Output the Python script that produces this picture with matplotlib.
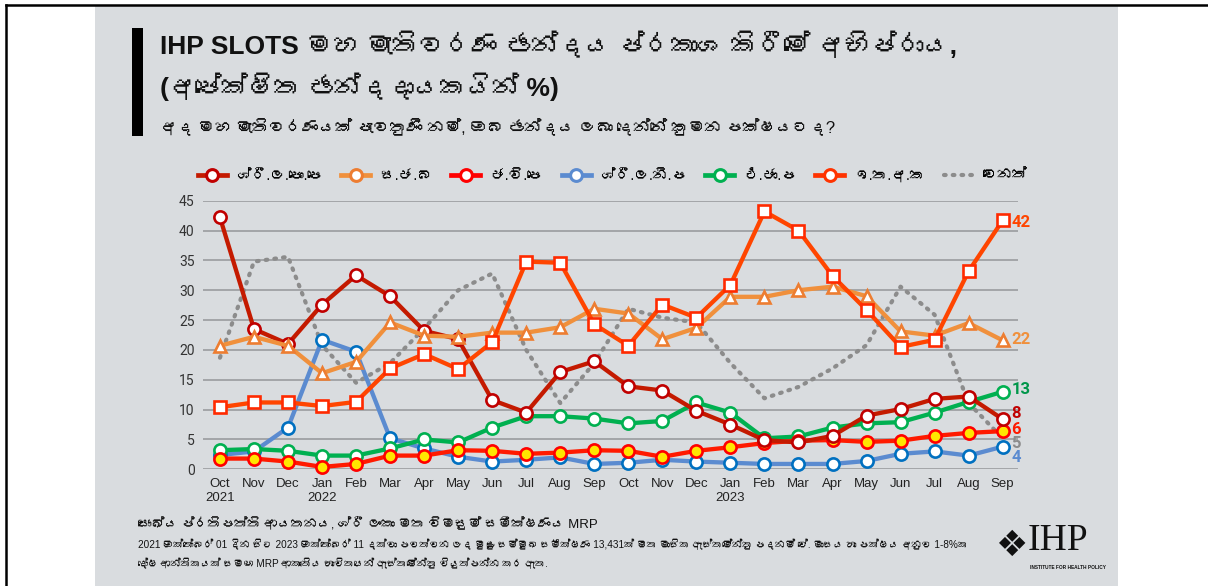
import matplotlib

matplotlib.use("Agg")
import matplotlib.pyplot as plt
from matplotlib import font_manager
from matplotlib.ft2font import FT2Font
from matplotlib.lines import Line2D
from matplotlib.patches import Rectangle

# Months on the x axis
months = ["Oct", "Nov", "Dec", "Jan", "Feb", "Mar", "Apr", "May", "Jun", "Jul", "Aug", "Sep",
          "Oct", "Nov", "Dec", "Jan", "Feb", "Mar", "Apr", "May", "Jun", "Jul", "Aug", "Sep"]
years = {0: "2021", 3: "2022", 15: "2023"}

# Series values (% of likely voters)
slpp = [42.2, 23.5, 21.0, 27.6, 32.5, 29.0, 23.2, 21.8, 11.6, 9.5, 16.3, 18.1,
        13.9, 13.2, 9.8, 7.5, 4.9, 4.5, 5.6, 9.0, 10.1, 11.8, 12.2, 8.4]
sjb = [20.7, 22.2, 20.7, 16.1, 18.0, 24.6, 22.4, 22.2, 22.9, 22.9, 23.8, 26.9,
       26.1, 21.8, 23.7, 28.9, 28.9, 30.0, 30.6, 29.0, 23.1, 22.4, 24.5, 21.6]
jvp = [1.8, 1.8, 1.3, 0.4, 0.9, 2.3, 2.3, 3.2, 3.1, 2.6, 2.8, 3.2,
       3.1, 2.1, 3.1, 3.7, 4.4, 4.8, 4.9, 4.6, 4.8, 5.6, 6.1, 6.4]
slfp = [2.4, 3.0, 7.0, 21.7, 19.7, 5.2, 3.5, 2.1, 1.3, 1.6, 2.0, 0.9,
        1.1, 1.6, 1.3, 1.1, 0.9, 0.9, 0.9, 1.4, 2.6, 3.0, 2.3, 3.8]
unp = [3.2, 3.4, 3.1, 2.3, 2.3, 3.5, 5.0, 4.5, 7.0, 8.9, 8.9, 8.5,
       7.7, 8.1, 11.2, 9.5, 5.2, 5.5, 7.0, 7.7, 7.9, 9.5, 11.3, 13.0]
itak = [10.4, 11.2, 11.2, 10.6, 11.3, 16.9, 19.3, 16.8, 21.3, 34.8, 34.6, 24.3,
        20.7, 27.6, 25.4, 30.9, 43.2, 40.0, 32.4, 26.7, 20.5, 21.7, 33.2, 41.7]
other = [18.7, 34.8, 35.6, 20.8, 14.5, 17.8, 23.6, 30.0, 32.8, 20.0, 11.1, 17.8,
         26.9, 25.4, 24.6, 17.8, 11.9, 13.8, 16.9, 20.8, 30.6, 25.9, 11.1, 5.2]

labels = ["ශ්‍රී.ල.පො.පෙ", "ස.ජ.බ", "ජ.වි.පෙ", "ශ්‍රී.ල.නි.ප", "එ.ජා.ප", "ඉ.ත.අ.ක", "වෙනත්"]


def find_fonts(codepoint):
    # installed fonts that have the given character, proportional ones first
    found = []
    for f in font_manager.fontManager.ttflist:
        try:
            if codepoint in FT2Font(f.fname).get_charmap() and f.name not in found:
                found.append(f.name)
        except Exception:
            pass
    return sorted(found, key=lambda n: "Mono" in n)


def clean(s):
    # matplotlib does no text shaping, so the zero width joiner only shows as a box
    return s.replace("\u200d", "")


fams = ["Liberation Sans", "DejaVu Sans"] + find_fonts(0x0DC1)[:1]
plt.rcParams["font.family"] = fams

BG = "#D9DCDF"

fig = plt.figure(figsize=(12.08, 5.86), dpi=100)

# outer frame and grey panel
fig.patches.append(Rectangle((0.0786, 0), 0.8469, 0.99, transform=fig.transFigure,
                             facecolor=BG, edgecolor="none", zorder=-2))
fig.add_artist(Line2D([0.005, 1], [0.9915, 0.9915], color="black", lw=1.8))
fig.add_artist(Line2D([0.005, 0.005], [0, 0.9915], color="black", lw=1.8))
fig.patches.append(Rectangle((0.109, 0.768), 0.0091, 0.184, transform=fig.transFigure,
                             facecolor="black", edgecolor="none", zorder=-1))

# title block
fig.text(0.1325, 0.923, clean("IHP SLOTS මහ මැතිවරණ ඡන්දය ප්‍රකාශ කිරීමේ අභිප්‍රාය,"),
         fontsize=19, fontweight="bold", va="center", color="#111111")
fig.text(0.1325, 0.852, clean("(අපේක්ෂිත ඡන්දදායකයින් %)"),
         fontsize=19, fontweight="bold", va="center", color="#111111")
fig.text(0.1325, 0.783,
         clean("අද මහ මැතිවරණයක් පැවතුණි නම්, ඔබ ඡන්දය ලබා දෙන්නේ කුමන පක්ෂයටද?"),
         fontsize=12, va="center", color="#111111")

ax = fig.add_axes([0.168, 0.1991, 0.6747, 0.4584])
ax.set_facecolor("none")
x = list(range(len(months)))

series = [
    # data, color, marker, marker face, marker edge, label colour, label dy
    (other, "#8C8C8C", None, None, None, "#8C8C8C", -0.9),
    (slfp, "#5B8BD0", "o", "white", "#0070C0", "#5B8BD0", -1.8),
    (unp, "#00B050", "o", "white", "#00B050", "#00964A", 0.3),
    (jvp, "#FF1A00", "o", "#FFE600", "#FF0000", "#FF1A00", 0.3),
    (slpp, "#C41A00", "o", "white", "#C00000", "#C00000", 1.0),
    (sjb, "#F0903C", "^", "white", "#ED7D31", "#F0903C", 0.2),
    (itak, "#FF4500", "s", "white", "#FF2A00", "#FF4500", -0.3),
]

for data, color, marker, mfc, mec, lcolor, dy in series:
    if marker is None:
        ax.plot(x, data, color=color, lw=3.0, ls=(0, (0.4, 1.7)),
                dash_capstyle="round", zorder=2)
    else:
        ax.plot(x, data, color=color, lw=3.1, marker=marker, markersize=8.8,
                markerfacecolor=mfc, markeredgecolor=mec, markeredgewidth=1.9,
                clip_on=False, zorder=3)
    ax.text(23.26, data[-1] + dy, f"{round(data[-1])}", color=lcolor, fontsize=12,
            fontweight="bold", va="center", ha="left", family="Roboto")

ax.set_xlim(-0.5, 23.45)
ax.set_ylim(0, 45)
ax.set_yticks(range(0, 46, 5))
ax.set_xticks(x)
ax.set_xticklabels([m + "\n" + years.get(i, "") for i, m in enumerate(months)],
                   fontsize=9.5, color="#222222", linespacing=1.25)
for t in ax.get_yticklabels():
    t.set_family("Roboto")
    t.set_fontsize(10)
    t.set_color("#333333")
ax.grid(axis="y", color="#A3A5A8", lw=1.4)
ax.set_axisbelow(True)
ax.tick_params(length=0, pad=6)
for s in ax.spines.values():
    s.set_visible(False)

# legend
colors = ["#C41A00", "#F0903C", "#FF0000", "#5B8BD0", "#00B050", "#FF3300"]
edges = ["#C00000", "#ED7D31", "#FF0000", "#5B8BD0", "#00B050", "#FF3300"]
handles = [Line2D([], [], color=c, lw=3.4, marker="o", markersize=8.5,
                  markerfacecolor="white", markeredgecolor=e, markeredgewidth=2.2)
           for c, e in zip(colors, edges)]
handles.append(Line2D([], [], color="#8C8C8C", lw=3, ls=(0, (0.4, 1.7)),
                      dash_capstyle="round"))
fig.legend(handles, [clean(s) for s in labels], loc="center",
           bbox_to_anchor=(0.507, 0.700), ncol=7, frameon=False, fontsize=10.5,
           handlelength=2.0, columnspacing=1.3, handletextpad=0.7)

# source and note
fig.text(0.114, 0.106,
         clean("සෞඛ්‍ය ප්‍රතිපත්ති ආයතනය, ශ්‍රී ලංකා මත විමසුම් සමීක්ෂණය MRP"),
         fontsize=9.5, va="center", color="#111111")
fig.text(0.114, 0.070,
         "2021 ඔක්තෝබර් 01 දින සිට 2023 ඔක්තෝබර් 11 දක්වා පවත්වන ලද මුළු සම්මුඛ සමීක්ෂණ "
         "13,431ක් මත මාසික ඇස්තමේන්තු පදනම් වේ. මාසය හා පක්ෂය අනුව 1-8%ක",
         fontsize=7.2, va="center", color="#111111")
fig.text(0.114, 0.039,
         "දෝෂ ආන්තිකයක් සමඟ MRP ආකෘතිය භාවිතයෙන් ඇස්තමේන්තු වියුත්පන්න කර ඇත.",
         fontsize=7.2, va="center", color="#111111")

# IHP logo
fig.text(0.838, 0.068, "❖", fontsize=26, va="center", ha="center", color="#111111",
         family="DejaVu Sans")
fig.text(0.851, 0.077, "IHP", fontsize=27, va="center", ha="left", color="#111111",
         family=["Liberation Serif", "DejaVu Serif"])
fig.text(0.853, 0.031, "INSTITUTE FOR HEALTH POLICY", fontsize=3.4, va="center",
         ha="left", color="#111111", fontweight="bold")

fig.savefig("out.png", dpi=100)
